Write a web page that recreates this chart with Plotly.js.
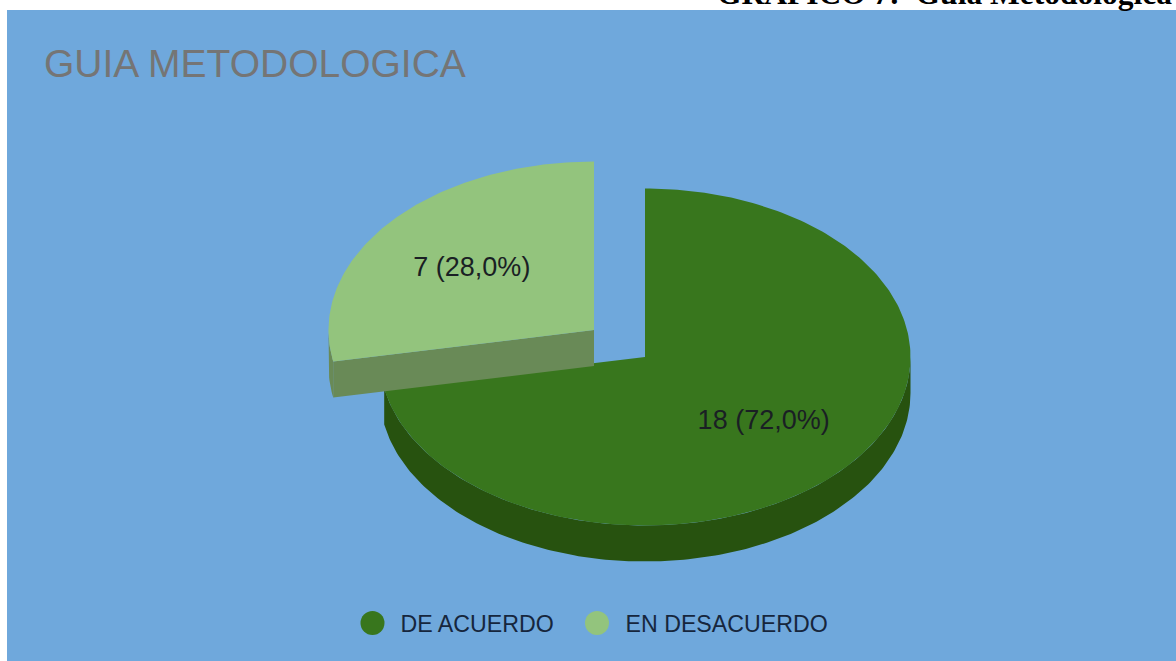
<!DOCTYPE html>
<html><head><meta charset="utf-8">
<script src="https://cdn.plot.ly/plotly-3.0.1.min.js"></script>
<style>html,body{margin:0;padding:0;overflow:hidden;background:#fff}</style>
</head><body><div id="chart" style="width:1176px;height:661px"></div>
<script>
const categories = ['DE ACUERDO', 'EN DESACUERDO'];
const values = [18, 7];
const topColors = ['#38761d', '#93c47d'];
const sideColors = ['#27520f', '#698a57'];
const chartTitle = 'GUIA METODOLOGICA';
const headerText = 'GRAFICO 7:  Guia Metodologica';

const W = 1176, H = 661, LEFT = 7, TOP = 10;
const centers = [[645, 357], [594, 330]];   // second slice is exploded
const RX = 265.5, RY = 168.5, DEPTH = 36, LABEL_R = 0.58, LABEL_DY = 2.5;
const legendMarkerX = [372.5, 597], legendTextX = [400.5, 625.5], legendY = 623;

const total = values.reduce((a, b) => a + b, 0);
const px = (c, deg, d = 0) => {
  const a = deg * Math.PI / 180;
  return [c[0] + RX * Math.sin(a), c[1] - RY * Math.cos(a) + d];
};
function arc(c, a0, a1, d = 0) {
  const n = Math.max(2, Math.ceil(Math.abs(a1 - a0)));
  const pts = [];
  for (let i = 0; i <= n; i++) pts.push(px(c, a0 + (a1 - a0) * i / n, d));
  return pts;
}
function poly(points, color) {
  return { type: 'scatter', mode: 'lines', x: points.map(p => p[0]), y: points.map(p => p[1]),
    fill: 'toself', fillcolor: color, line: { width: 0, color: color }, hoverinfo: 'skip', showlegend: false };
}

const traces = [];
const spans = []; let acc = 0;
values.forEach(v => { const s = acc, e = acc + v / total * 360; spans.push([s, e]); acc = e; });

spans.forEach((sp, i) => {
  const c = centers[i], [s, e] = sp;
  const a0 = Math.max(s, 90), a1 = Math.min(e, 270);
  if (a1 > a0) traces.push(poly(arc(c, a0, a1).concat(arc(c, a1, a0, DEPTH)), sideColors[i]));
  if (i === 1) {
    const p = px(c, s);
    traces.push(poly([[c[0], c[1]], p, [p[0], p[1] + DEPTH], [c[0], c[1] + DEPTH]], sideColors[i]));
  }
  traces.push(poly([[c[0], c[1]]].concat(arc(c, s, e)), topColors[i]));
});

const labels = values.map(v => v + ' (' + (v / total * 100).toFixed(1).replace('.', ',') + '%)');
const labelPts = spans.map((sp, i) => {
  const a = (sp[0] + sp[1]) / 2 * Math.PI / 180;
  return [centers[i][0] + RX * LABEL_R * Math.sin(a) - (i === 1 ? 3.5 : 0), centers[i][1] - RY * LABEL_R * Math.cos(a) + LABEL_DY - (i === 1 ? 1 : 0)];
});
traces.push({ type: 'scatter', mode: 'text', x: labelPts.map(p => p[0]), y: labelPts.map(p => p[1]),
  text: labels, textposition: 'middle center',
  textfont: { family: 'Liberation Sans', size: 27, color: '#1a1f24' }, hoverinfo: 'skip', showlegend: false });

traces.push({ type: 'scatter', mode: 'markers', x: legendMarkerX, y: categories.map(() => legendY),
  marker: { size: 24, color: topColors, line: { width: 0 } }, hoverinfo: 'skip', showlegend: false });
traces.push({ type: 'scatter', mode: 'text', x: legendTextX, y: categories.map(() => legendY + 3), text: categories,
  textposition: 'middle right', textfont: { family: 'Liberation Sans', size: 23.2, color: '#16263d' },
  hoverinfo: 'skip', showlegend: false });

const hidden = { visible: false, fixedrange: true };
Plotly.newPlot('chart', traces, {
  width: W, height: H,
  margin: { l: LEFT, t: TOP, r: 0, b: 0, pad: 0 },
  paper_bgcolor: '#ffffff', plot_bgcolor: '#6fa8dc',
  showlegend: false,
  xaxis: Object.assign({ range: [LEFT, W] }, hidden),
  yaxis: Object.assign({ range: [H, TOP] }, hidden),
  title: { text: chartTitle, x: 44 / W, xanchor: 'left', xref: 'container', y: 1 - 63 / H, yref: 'container', yanchor: 'middle',
    font: { family: 'Liberation Sans', size: 39, color: '#757575' } },
  annotations: [{ text: '<b>' + headerText + '</b>', xref: 'paper', yref: 'paper', x: (716 - LEFT) / (W - LEFT), y: 1,
    xanchor: 'left', yanchor: 'bottom', showarrow: false, borderpad: 0, yshift: -2,
    font: { family: 'Liberation Serif', size: 31.5, color: '#000000' } }]
}, { displayModeBar: false, staticPlot: true });
</script></body></html>
